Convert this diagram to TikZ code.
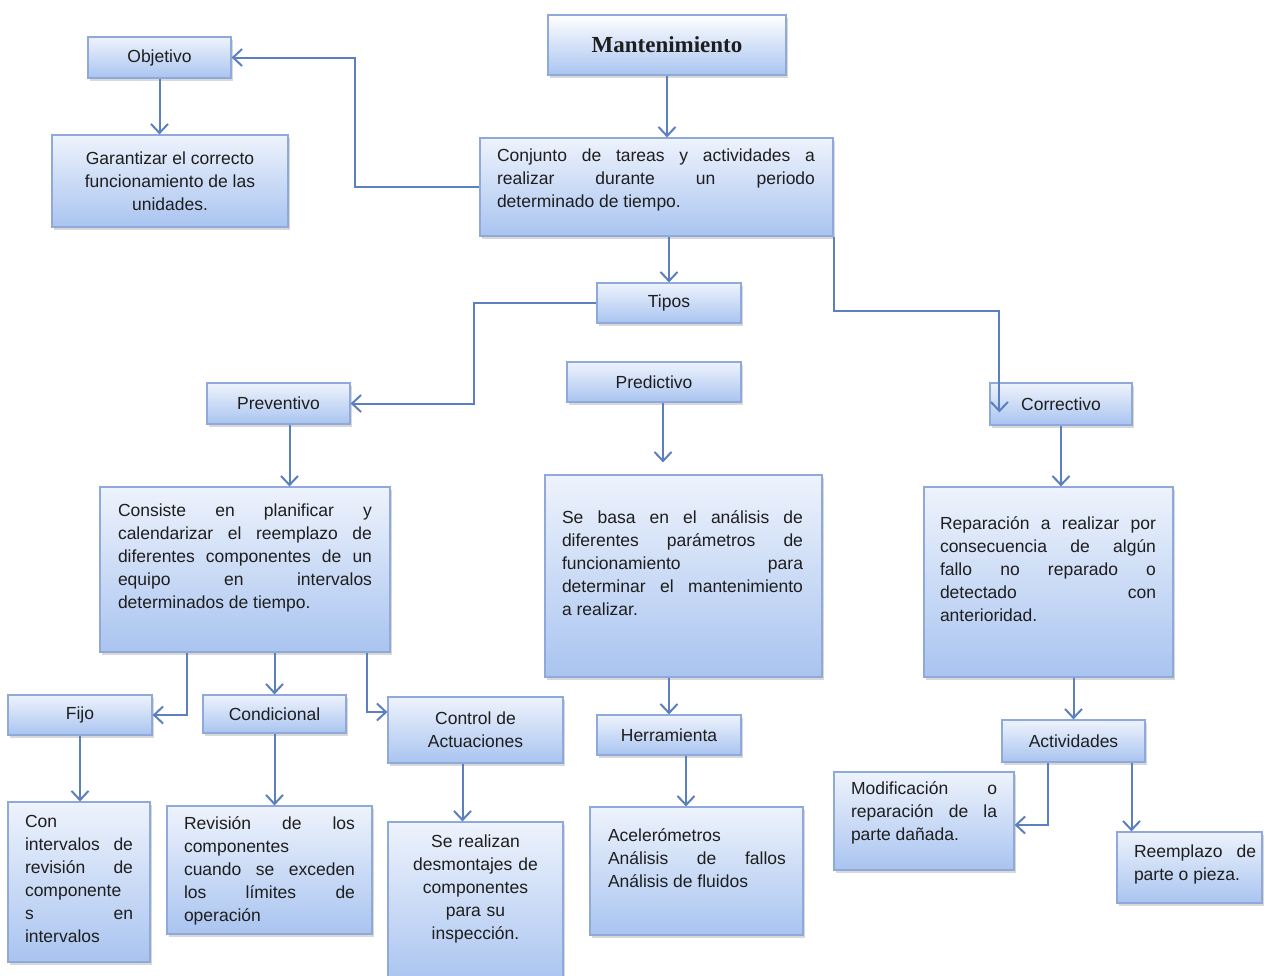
\documentclass[tikz,border=0pt]{standalone}
\usepackage{fontspec}
\setmainfont{Liberation Sans}
\newfontfamily\titlefont{Liberation Serif}
\usetikzlibrary{arrows.meta,shadows}
\definecolor{boxline}{HTML}{8FA9DA}
\definecolor{boxtop}{HTML}{EEF3FC}
\definecolor{boxbot}{HTML}{A9C4F0}
\definecolor{wire}{HTML}{5B7FC0}
\definecolor{ink}{HTML}{1E1E1E}
\hyphenpenalty=10000
\exhyphenpenalty=10000
\hbadness=10000
\tolerance=10000

\begin{document}
\begin{tikzpicture}[x=1pt,y=-1pt,
  box/.style={draw=boxline, line width=1.2pt, top color=boxtop, bottom color=boxbot,
    drop shadow={shadow xshift=1.5pt, shadow yshift=-3pt, opacity=.3},
    inner sep=0pt, text=ink, font=\fontsize{17.5}{23}\selectfont},
  txt/.style={inner sep=0pt, text=ink, align=justify, font=\fontsize{17.5}{23}\selectfont},
  arr/.style={draw=wire, line width=2pt, -{Straight Barb[length=9pt,width=17pt]}}]
\path[use as bounding box, fill=white] (0,0) rectangle (1265,975);

% top level
\node[box, minimum width=238pt, minimum height=60pt, top color=white,
  font=\titlefont\bfseries\fontsize{23}{28}\selectfont] (mant) at (667,45) {Mantenimiento};
\node[box, minimum width=353pt, minimum height=98pt] (conjunto) at (656.5,187) {};
\node[txt, text width=318pt] (conjuntoT) at (656,180) {Conjunto de tareas y actividades a\linebreak realizar durante un periodo\linebreak determinado de tiempo.};
\node[box, minimum width=143pt, minimum height=41pt] (objetivo) at (159.5,57.5) {Objetivo};
\node[box, minimum width=236pt, minimum height=92pt, align=center] (garantizar) at (170,181) {Garantizar el correcto\\funcionamiento de las\\unidades.};
\node[box, minimum width=144pt, minimum height=40pt] (tipos) at (669,303) {Tipos};

% types
\node[box, minimum width=143pt, minimum height=41pt] (preventivo) at (278.5,403.5) {Preventivo};
\node[box, minimum width=174pt, minimum height=40pt] (predictivo) at (654,382) {Predictivo};
\node[box, minimum width=142pt, minimum height=42pt] (correctivo) at (1061,404) {Correctivo};

\node[box, minimum width=290pt, minimum height=165pt] (consiste) at (245,569.5) {};
\node[txt, text width=254pt] (consisteT) at (245,558) {Consiste en planificar y\linebreak calendarizar el reemplazo de\linebreak diferentes componentes de un\linebreak equipo en intervalos\linebreak determinados de tiempo.};
\node[box, minimum width=277pt, minimum height=202pt] (sebasa) at (683.5,576) {};
\node[txt, text width=241pt] (sebasaT) at (682.5,563) {Se basa en el análisis de\linebreak diferentes parámetros de\linebreak funcionamiento para\linebreak determinar el mantenimiento\linebreak a realizar.};
\node[box, minimum width=249pt, minimum height=190pt] (reparacion) at (1048.5,582) {};
\node[txt, text width=216pt] (reparacionT) at (1048,569) {Reparación a realizar por\linebreak consecuencia de algún\linebreak fallo no reparado o\linebreak detectado con\linebreak anterioridad.};

% second row
\node[box, minimum width=144pt, minimum height=40pt] (fijo) at (80,715) {Fijo};
\node[box, minimum width=143pt, minimum height=38pt] (condicional) at (274.5,714) {Condicional};
\node[box, minimum width=175pt, minimum height=66pt, align=center] (control) at (475.5,730) {Control de\\Actuaciones};
\node[box, minimum width=144pt, minimum height=40pt] (herramienta) at (669,735) {Herramienta};
\node[box, minimum width=143pt, minimum height=42pt] (actividades) at (1073.5,741) {Actividades};

% leaves
\node[box, minimum width=142pt, minimum height=160pt] (conint) at (79,882) {};
\node[txt, text width=108pt] (conintT) at (79,878.5) {Con\linebreak intervalos de\linebreak revisión de\linebreak componente\linebreak s en\linebreak intervalos};
\node[box, minimum width=205pt, minimum height=128pt] (revision) at (269.5,870) {};
\node[txt, text width=171pt] (revisionT) at (269.5,871) {Revisión de los\linebreak componentes\linebreak cuando se exceden\linebreak los límites de\linebreak operación};
\node[box, minimum width=175pt, minimum height=163pt] (realizan) at (475.5,903.5) {};
\node[txt, text width=160pt, align=center] (realizanT) at (475.5,889) {Se realizan\\desmontajes de\\componentes\\para su\\inspección.};
\node[box, minimum width=213pt, minimum height=128pt] (acelero) at (696.5,871) {};
\node[txt, text width=178pt] (aceleroT) at (697,858) {Acelerómetros\linebreak Análisis de fallos\linebreak Análisis de fluidos};
\node[box, minimum width=180pt, minimum height=98pt] (modif) at (924,821) {};
\node[txt, text width=146pt] (modifT) at (924,813) {Modificación o\linebreak reparación de la\linebreak parte dañada.};
\node[box, minimum width=145pt, minimum height=71pt] (reemplazo) at (1189.5,867.5) {};
\node[txt, text width=122pt] (reemplazoT) at (1195,864.5) {Reemplazo de\linebreak parte o pieza.};

% connectors
\draw[arr] (mant.south) -- (mant.south |- conjunto.north);
\draw[arr] (conjunto.west) -- ++(-124,0) |- (objetivo.east);
\draw[arr] (objetivo.south) -- (objetivo.south |- garantizar.north);
\draw[arr] (tipos.north |- conjunto.south) -- (tipos.north);
\draw[arr] (conjunto.south east) -- ++(0,74) -| ([xshift=10pt,yshift=-30pt]correctivo.north west);
\draw[arr] (tipos.west) -- ++(-122,0) |- (preventivo.east);
\draw[arr] ([xshift=9pt]predictivo.south) -- ([xshift=9pt,yshift=12pt]predictivo.south |- sebasa.north);
\draw[arr] ([xshift=11pt]preventivo.south) -- ([xshift=11pt]preventivo.south |- consiste.north);
\draw[arr] (correctivo.south) -- (correctivo.south |- reparacion.north);
\draw[arr] ([xshift=-58pt]consiste.south) |- (fijo.east);
\draw[arr] (condicional.north |- consiste.south) -- (condicional.north);
\draw[arr] ([xshift=122pt]consiste.south) |- ([yshift=18pt]control.west);
\draw[arr] (fijo.south) -- (fijo.south |- conint.north);
\draw[arr] (condicional.south) -- (condicional.south |- revision.north);
\draw[arr] ([xshift=-13pt]control.south) -- ([xshift=-13pt]control.south |- realizan.north);
\draw[arr] (herramienta.north |- sebasa.south) -- (herramienta.north);
\draw[arr] ([xshift=17pt]herramienta.south) -- ([xshift=17pt]herramienta.south |- acelero.north);
\draw[arr] (actividades.north |- reparacion.south) -- (actividades.north);
\draw[arr] ([xshift=-26pt]actividades.south) |- ([yshift=-4pt]modif.east);
\draw[arr] ([xshift=58pt]actividades.south) -- ([xshift=58pt]actividades.south |- reemplazo.north);
\end{tikzpicture}
\end{document}
